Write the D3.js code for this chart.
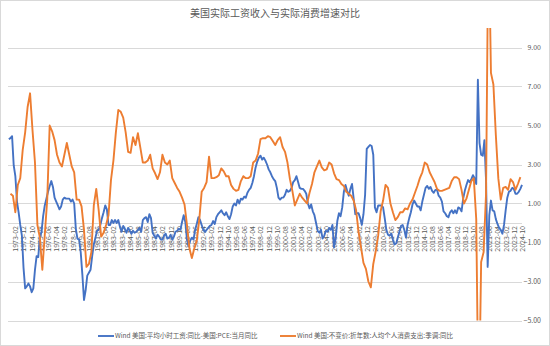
<!DOCTYPE html>
<html><head><meta charset="utf-8">
<script src="https://cdn.jsdelivr.net/npm/d3@7"></script>
<style>body{margin:0;background:#fff}svg{display:block}</style>
</head><body><svg id="c" width="550" height="346"></svg>
<script>
const chartTitle = "美国实际工资收入与实际消费增速对比";
const seriesNames = ["Wind 美国:平均小时工资:同比-美国:PCE:当月同比", "Wind 美国:不变价:折年数:人均个人消费支出:季调:同比"];
const seriesColors = ["#4472C4", "#ED7D31"];
const yTicks = [-5, -3, -1, 1, 3, 5, 7, 9];
// blue: every second month starting 1972-06
const blueValues = [
4.3,4.35,4.45,2.95,2.4,1.1,0.55,-0.1,-0.65,-2.3,
-3.35,-3.25,-3.1,-3.25,-3.55,-3.35,-2.4,-1.7,-1.75,-0.75,
-0.45,0.35,0.9,1.25,1.6,1.9,2.15,1.85,1.3,1.1,
0.9,0.7,0.85,1.2,1.3,1.25,1.25,1.25,1.1,1.2,
1.0,-0.3,-0.8,-0.85,-1.5,-2.65,-3.95,-3.45,-2.7,-2.55,
-2.4,-1.7,-1.1,-0.75,-0.4,-0.35,-0.1,0.25,0.55,0.9,
0.7,-0.1,-0.1,0.15,0,0.15,0,0.15,-0.2,-0.45,
-0.15,-0.3,-0.5,-0.25,-0.4,-0.55,-0.4,-0.5,-0.45,-0.35,
-0.25,-0.45,0.15,0.25,0.3,0.05,0.45,0.25,-0.5,-0.65,
-0.8,-0.6,-0.7,-0.85,-0.85,-0.65,-0.55,-0.8,-0.75,-0.6,
-0.85,-0.7,-0.45,-0.4,-0.3,-0.35,0.05,0.4,0.05,-0.85,
-1.2,-0.9,-0.75,-0.85,-0.35,-0.05,0.3,0.15,-0.1,-0.35,
-0.45,-0.35,-0.25,-0.15,-0.1,0.1,-0.05,0.3,0.45,0.55,
0.65,0.5,0.4,0.55,0.35,0.2,0.45,0.85,1.0,0.9,
1.2,1.0,1.25,1.2,1.35,1.3,1.55,1.7,1.8,2.05,
2.4,2.85,3.15,3.35,3.45,3.25,3.35,3.2,3.0,2.75,
2.6,2.4,2.25,2.15,1.8,1.3,1.2,1.3,1.3,1.45,
1.7,1.6,1.65,1.8,2.1,2.2,2.4,2.1,1.8,1.75,
1.75,1.65,1.5,1.0,0.75,0.95,0.6,0.4,0,-0.4,
-0.5,-0.35,-0.8,-0.65,-0.4,-0.45,-0.25,-0.35,-0.1,-1.25,
-0.75,0.1,0.5,0.35,0.8,1.6,1.95,1.65,1.4,1.75,
2.0,1.25,0.45,0.5,0.5,0.25,-0.1,0.45,1.45,3.8,
3.9,4.0,3.95,3.5,0.8,0.55,0.9,0.9,0.9,0.8,
0.25,-0.35,-0.6,-0.65,-0.55,-0.85,-1.1,-1.05,-0.75,-0.45,
-0.15,-0.1,-0.35,-0.75,-0.1,0.25,0.55,0.95,1.15,1.0,
0.85,0.85,0.65,1.1,1.45,1.8,1.9,1.75,1.85,1.65,
1.55,1.7,1.7,1.4,1.3,1.1,0.6,0.5,0.35,0.3,
0.55,0.65,0.5,0.65,0.5,0.8,0.75,0.6,1.25,1.65,
1.95,2.2,2.1,2.25,2.45,2.3,2.0,7.35,4.1,3.5,
3.45,4.25,2.2,-2.25,0.4,1.15,0.65,0.6,0.2,-0.05,
-0.25,-0.35,-0.55,-0.1,0.65,1.3,1.6,1.65,1.8,1.75,
1.5,1.5,1.6,1.75,1.95
];
// orange: quarterly, starting 1972-08
const orangeValues = [
1.5,1.4,0.55,1.95,2.3,3.75,4.65,5.95,6.65,4.75,
3.1,-0.1,-0.75,-2.4,-0.6,1.2,5.0,4.7,4.25,3.5,
3.1,2.9,3.5,4.1,3.5,2.9,2.6,1.2,1.2,0.85,
-0.35,-2.25,-2.1,-1.5,0.9,1.75,0.65,-0.7,-0.5,-0.1,
0.4,2.2,3.2,4.65,5.8,5.7,5.4,4.65,3.65,3.6,
4.4,4.0,4.6,3.85,3.1,3.1,3.2,3.5,2.8,2.55,
2.25,2.6,3.5,3.1,3.0,3.2,2.3,2.05,1.8,1.6,
1.3,0.95,-0.1,-1.3,-1.8,-1.3,-0.9,0.15,1.6,1.8,
2.1,3.4,2.3,2.3,2.35,2.45,2.8,2.65,2.4,2.4,
1.95,1.75,1.65,1.7,2.15,2.4,2.3,2.3,2.4,3.1,
3.2,3.55,4.3,4.35,4.35,4.45,4.4,4.2,4.0,4.25,
4.4,3.9,3.65,3.1,2.25,1.65,0.9,1.2,1.5,1.3,
1.15,1.0,1.55,2.0,2.6,2.9,3.2,2.85,2.7,2.75,
3.1,3.0,2.55,2.25,2.2,2.0,1.9,1.6,1.5,1.4,
1.15,0.65,-0.45,-1.25,-2.05,-2.35,-3.0,-3.3,-2.1,-1.45,
-0.65,0.6,1.15,1.95,1.8,1.0,0.55,0.15,0.3,0.55,
0.55,0.75,0.7,1.0,1.2,1.55,1.9,2.3,2.6,3.1,
3.0,2.6,2.35,2.1,1.75,1.65,1.65,1.7,1.75,1.8,
2.15,2.35,2.35,2.25,1.7,1.0,1.25,1.7,2.15,2.3,
0.2,-10.5,-2.0,-1.5,1.5,15.5,7.7,7.1,4.5,2.3,
1.2,1.8,1.85,1.7,2.25,2.1,1.7,2.0,2.35
];

const fmt = d3.timeFormat("%Y-%m");
const months = d3.timeMonth.range(new Date(1972, 4, 1), new Date(2024, 10, 1)).map(fmt);
const tickLabels = months.filter((m, i) => i >= 9 && (i - 9) % 10 === 0);

const blueData = blueValues.map((v, j) => ({ m: months[1 + 2 * j], v }));
const orangeData = orangeValues.map((v, k) => ({ m: months[3 + 3 * k], v }));

const svg = d3.select("#c");
const font = "'Noto Sans CJK SC', 'Microsoft YaHei', sans-serif";
const gray = "#595959";
const x = d3.scalePoint().domain(months).range([8, 522]);
const y = d3.scaleLinear().domain([-5, 10]).range([320.5, 28]);

svg.append("rect").attr("x", 0.5).attr("y", 0.5).attr("width", 549).attr("height", 345)
  .attr("fill", "#fff").attr("stroke", "#d9d9d9");

svg.append("text").attr("x", 275).attr("y", 17).attr("text-anchor", "middle")
  .attr("font-family", font).attr("font-size", 10).attr("fill", gray).text(chartTitle);

// gridlines
svg.append("g").selectAll("line").data(yTicks.concat([0])).join("line")
  .attr("x1", 8).attr("x2", 522)
  .attr("y1", d => Math.round(y(d)) + 0.5).attr("y2", d => Math.round(y(d)) + 0.5)
  .attr("stroke", "#d9d9d9").attr("stroke-width", 1);

// right axis labels
const yAxis = d3.axisRight(y).tickValues(yTicks).tickFormat(d3.format(".2f")).tickSize(0);
const ya = svg.append("g").attr("transform", "translate(541,0)").call(yAxis);
ya.select(".domain").remove();
ya.selectAll("text").attr("x", 0).attr("text-anchor", "end").attr("font-family", font)
  .attr("font-size", 7).attr("fill", gray);

// x category labels
const xAxis = d3.axisBottom(x).tickValues(tickLabels).tickSize(0);
const xa = svg.append("g").attr("transform", `translate(0,${y(0)})`).call(xAxis);
xa.select(".domain").remove();
xa.selectAll("text").attr("transform", "rotate(-90)").attr("x", -3).attr("y", 0)
  .attr("dy", "0.35em").attr("text-anchor", "end")
  .attr("font-family", font).attr("font-size", 7).attr("fill", gray);

svg.append("clipPath").attr("id", "clip").append("rect")
  .attr("x", 0).attr("y", 28).attr("width", 550).attr("height", 292.5);

const line = d3.line().x(d => x(d.m)).y(d => y(d.v));
const plot = svg.append("g").attr("clip-path", "url(#clip)");
plot.append("path").datum(blueData).attr("d", line).attr("fill", "none")
  .attr("stroke", seriesColors[0]).attr("stroke-width", 1.9).attr("stroke-linejoin", "round");
plot.append("path").datum(orangeData).attr("d", line).attr("fill", "none")
  .attr("stroke", seriesColors[1]).attr("stroke-width", 1.9).attr("stroke-linejoin", "round");

// legend
const legX = [98, 280];
seriesNames.forEach((n, i) => {
  svg.append("line").attr("x1", legX[i]).attr("x2", legX[i] + 16).attr("y1", 336).attr("y2", 336)
    .attr("stroke", seriesColors[i]).attr("stroke-width", 1.9);
  svg.append("text").attr("x", legX[i] + 17).attr("y", 336).attr("dy", "0.35em")
    .attr("font-family", font).attr("font-size", 6.5).attr("fill", gray).text(n);
});
</script></body></html>
